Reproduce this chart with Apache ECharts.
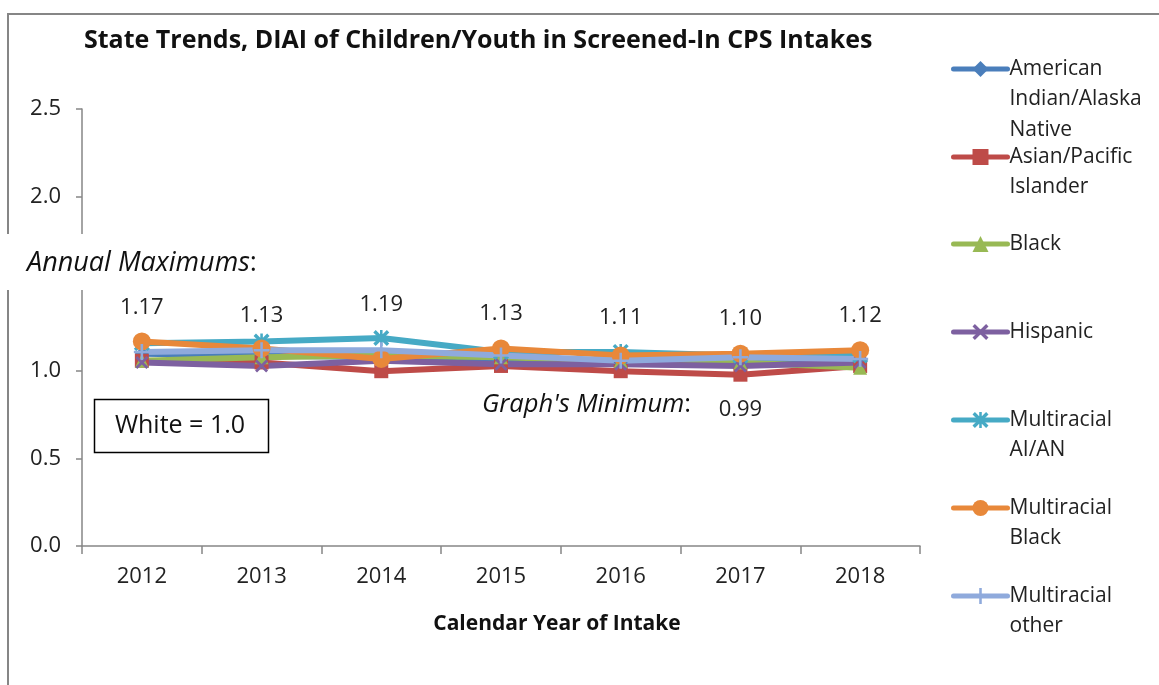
<!DOCTYPE html>
<html>
<head>
<meta charset="utf-8">
<script src="https://cdn.jsdelivr.net/npm/echarts@6/dist/echarts.min.js"></script>
<style>
html,body{margin:0;padding:0;background:#fff;}
#chart{width:1159px;height:685px;}
</style>
</head>
<body>
<div id="chart"></div>
<script>
// ---- data ----
const years = ['2012', '2013', '2014', '2015', '2016', '2017', '2018'];
const seriesNames = ['American Indian/Alaska Native', 'Asian/Pacific Islander', 'Black', 'Hispanic', 'Multiracial AI/AN', 'Multiracial Black', 'Multiracial other'];
const legendLines = [['American', 'Indian/Alaska', 'Native'], ['Asian/Pacific', 'Islander'], ['Black'], ['Hispanic'], ['Multiracial', 'AI/AN'], ['Multiracial', 'Black'], ['Multiracial', 'other']];
const aian      = [1.10, 1.09, 1.08, 1.06, 1.05, 1.05, 1.06];
const asianPI   = [1.06, 1.05, 1.00, 1.03, 1.00, 0.98, 1.03];
const black     = [1.06, 1.08, 1.09, 1.08, 1.06, 1.05, 1.02];
const hispanic  = [1.05, 1.03, 1.06, 1.04, 1.04, 1.03, 1.05];
const mrAian    = [1.16, 1.17, 1.19, 1.11, 1.11, 1.09, 1.09];
const mrBlack   = [1.17, 1.13, 1.07, 1.13, 1.09, 1.10, 1.12];
const mrOther   = [1.11, 1.12, 1.12, 1.09, 1.06, 1.08, 1.07];
const annualMax = ['1.17', '1.13', '1.19', '1.13', '1.11', '1.10', '1.12'];
const graphMin = '0.99';

// ---- styles ----
const FONT = '"Open Sans", sans-serif';
const colors = ['#4A7EBB', '#BE4B48', '#98B954', '#7D60A0', '#46AAC5', '#E8883A', '#8FAADC'];
const xPath = 'path://M0,1.5L1.5,0L10,8.5L8.5,10Z M8.5,0L10,1.5L1.5,10L0,8.5Z';
const plusPath = 'path://M4.2,0H5.8V10H4.2Z M0,4.2H10V5.8H0Z';
const starPath = 'path://M0,1.5L1.5,0L10,8.5L8.5,10Z M8.5,0L10,1.5L1.5,10L0,8.5Z M4.2,0H5.8V10H4.2Z';
const symbols = ['diamond', 'rect', 'triangle', xPath, starPath, 'circle', plusPath];
const symbolSizes = [14, 14, 14, 13, 16, 18, 16];
const seriesData = [aian, asianPI, black, hispanic, mrAian, mrBlack, mrOther];
const legendCenters = [69, 157, 244, 332, 420, 508, 596];
const LH = 30.5;
const labelY = [308, 316, 305, 314, 318, 319, 316];

const chart = echarts.init(document.getElementById('chart'), null, {renderer: 'canvas'});

const series = seriesNames.map((n, i) => ({
  name: n,
  type: 'line',
  data: seriesData[i],
  symbol: symbols[i],
  symbolSize: symbolSizes[i],
  showAllSymbol: true,
  lineStyle: {width: 6, color: colors[i]},
  itemStyle: {color: colors[i], borderWidth: 0},
  emphasis: {disabled: true},
  animation: false
}));

const legends = seriesNames.map((n, i) => {
  const nl = legendLines[i].length;
  const blanks = new Array(nl - 1).fill(' ');
  return {
    data: [n],
    orient: 'vertical',
    left: 951,
    top: legendCenters[i] - (2 * nl - 1) * LH / 2,
    itemWidth: 54,
    itemHeight: 20,
    itemGap: 0,
    padding: 0,
    selectedMode: false,
    lineStyle: {width: 5, cap: 'round'},
    formatter: () => blanks.concat(legendLines[i]).join('\n'),
    textStyle: {fontFamily: FONT, fontSize: 21, color: '#222', lineHeight: LH, padding: [0, 0, 0, -3]}
  };
});

const option = {
  backgroundColor: '#fff',
  animation: false,
  color: colors,
  title: {
    text: 'State Trends, DIAI of Children/Youth in Screened-In CPS Intakes',
    left: 79, top: 23,
    textStyle: {fontFamily: FONT, fontSize: 25, fontWeight: 'bold', color: '#111'}
  },
  legend: legends,
  grid: {left: 82, right: 239, top: 109, bottom: 139, containLabel: false},
  xAxis: {
    type: 'category',
    data: years,
    boundaryGap: true,
    axisLine: {lineStyle: {color: '#868686', width: 1.5}},
    axisTick: {show: true, length: 8, inside: false, lineStyle: {color: '#868686', width: 1.5}},
    axisLabel: {fontFamily: FONT, fontSize: 22, color: '#222', margin: 20},
    name: 'Calendar Year of Intake',
    nameLocation: 'middle',
    nameGap: 68,
    nameTextStyle: {fontFamily: FONT, fontSize: 21, fontWeight: 'bold', color: '#111', padding: [0, 0, 0, 112]}
  },
  yAxis: {
    type: 'value',
    min: 0, max: 2.5, interval: 0.5,
    axisLine: {show: true, lineStyle: {color: '#868686', width: 1.5}},
    axisTick: {show: true, length: 6, lineStyle: {color: '#868686', width: 1.5}},
    splitLine: {show: false},
    axisLabel: {fontFamily: FONT, fontSize: 22, color: '#222', margin: 21, formatter: v => v.toFixed(1)}
  },
  series: series
};
chart.setOption(option);

// annotations placed relative to the axes
const g = [];
g.push({type: 'rect', z: 0, silent: true, shape: {x: 8, y: 14, width: 1300, height: 800}, style: {fill: 'none', stroke: '#868686', lineWidth: 2}});
g.push({type: 'rect', z: 100, silent: true, shape: {x: 0, y: 234, width: 330, height: 56}, style: {fill: '#fff'}});
g.push({type: 'text', z: 101, silent: true, x: 27, y: 263, style: {
  text: '{i|Annual Maximums}{n|:}', verticalAlign: 'middle',
  rich: {i: {fontFamily: FONT, fontSize: 27, fontStyle: 'italic', fill: '#111'}, n: {fontFamily: FONT, fontSize: 27, fill: '#111'}}
}});
years.forEach((y, i) => {
  const px = chart.convertToPixel({xAxisIndex: 0}, y);
  g.push({type: 'text', z: 101, silent: true, x: px, y: labelY[i], style: {
    text: annualMax[i], align: 'center', verticalAlign: 'middle', fontFamily: FONT, fontSize: 22, fill: '#222'
  }});
});
g.push({type: 'text', z: 101, silent: true, x: 691, y: 405, style: {
  text: "{i|Graph's Minimum}{n|:}", align: 'right', verticalAlign: 'middle',
  rich: {i: {fontFamily: FONT, fontSize: 25.5, fontStyle: 'italic', fill: '#111'}, n: {fontFamily: FONT, fontSize: 25.5, fill: '#111'}}
}});
g.push({type: 'text', z: 101, silent: true, x: chart.convertToPixel({xAxisIndex: 0}, '2017'), y: 410, style: {
  text: graphMin, align: 'center', verticalAlign: 'middle', fontFamily: FONT, fontSize: 22, fill: '#222'
}});
g.push({type: 'rect', z: 101, silent: true, shape: {x: 94.5, y: 399.5, width: 174, height: 53}, style: {fill: '#fff', stroke: '#000', lineWidth: 1.5}});
g.push({type: 'text', z: 102, silent: true, x: 180, y: 426, style: {
  text: 'White = 1.0', align: 'center', verticalAlign: 'middle', fontFamily: FONT, fontSize: 25, fill: '#111'
}});
chart.setOption({graphic: g});
</script>
</body>
</html>
